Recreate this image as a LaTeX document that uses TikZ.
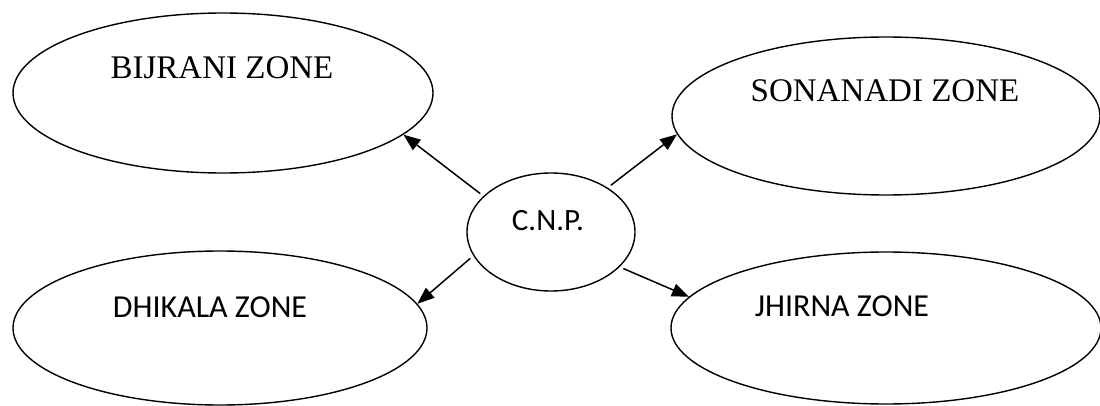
\documentclass[tikz,border=0pt]{standalone}
\usepackage{fontspec}
\setmainfont{Liberation Serif}
\newfontfamily\calib{Carlito}
\usetikzlibrary{shapes.geometric,arrows.meta}
\tikzset{
  zone/.style={draw=black, line width=1.4pt, ellipse, inner sep=0pt},
  serifl/.style={font=\fontsize{33}{37}\selectfont, inner sep=0pt},
  sansl/.style={font=\calib\fontsize{32}{36}\selectfont, inner sep=0pt},
  arr/.style={line width=1.5pt, -{Triangle[length=17pt,width=13pt]}, shorten <=4pt}
}
\begin{document}
\begin{tikzpicture}[x=1pt,y=-1pt]
\useasboundingbox (0,0) rectangle (1100,406);
\node[zone, minimum width=420pt, minimum height=160pt] (bij) at (223,93) {};
\node[zone, minimum width=428pt, minimum height=158pt] (son) at (886,116) {};
\node[zone, minimum width=168pt, minimum height=118pt] (cnp) at (551,232) {};
\node[zone, minimum width=414pt, minimum height=154pt] (dhi) at (220,328) {};
\node[zone, minimum width=430pt, minimum height=152pt] (jhi) at (886,328) {};
\node[serifl] (tbij) at (222,68) {BIJRANI ZONE};
\node[serifl] (tson) at (885,91) {SONANADI ZONE};
\node[sansl, font=\calib\fontsize{31}{35}\selectfont] (tcnp) at (548,221) {C.N.P.};
\node[sansl] (tdhi) at (210,307) {DHIKALA ZONE};
\node[sansl] (tjhi) at (842,306) {JHIRNA ZONE};
\draw[arr] (cnp.152) -- (bij.-13);
\draw[arr] (cnp.38) -- (son.185);
\draw[arr] (cnp.197) -- (dhi.7);
\draw[arr] (cnp.-27) -- (jhi.171);
\end{tikzpicture}
\end{document}
